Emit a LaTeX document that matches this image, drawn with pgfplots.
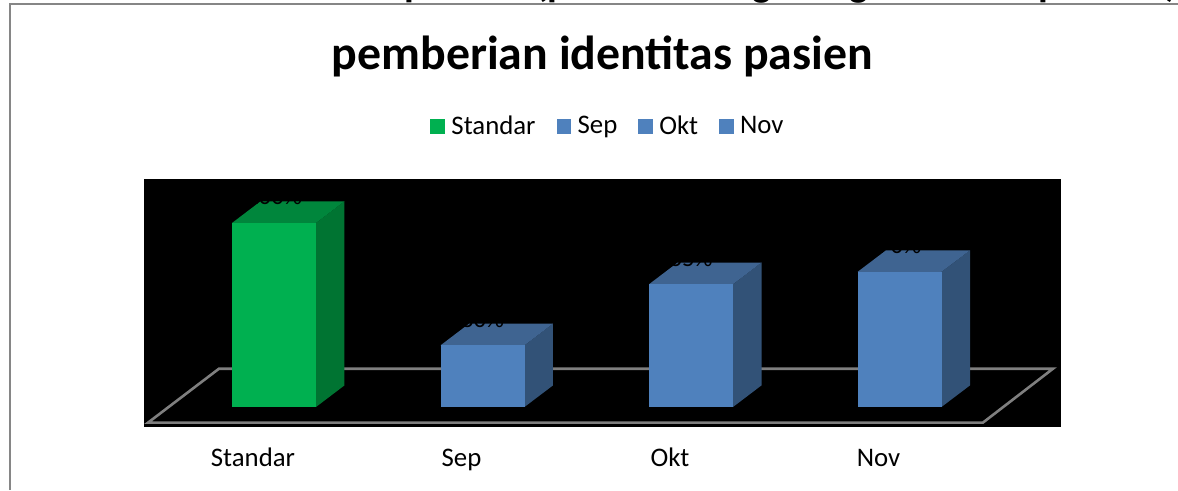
\documentclass[border=0pt]{standalone}
\usepackage{pgfplots}
\usepackage{fontspec}
\setmainfont{Carlito}
\pgfplotsset{compat=1.18}
\definecolor{gfront}{HTML}{00B050}
\definecolor{gtop}{HTML}{00863C}
\definecolor{gside}{HTML}{007432}
\definecolor{bfront}{HTML}{4F81BD}
\definecolor{btop}{HTML}{3F6491}
\definecolor{bside}{HTML}{325277}
\definecolor{floorgray}{HTML}{7F7F7F}
\definecolor{framegray}{HTML}{868686}
\begin{document}
\begin{tikzpicture}[x=1pt,y=1pt]
\useasboundingbox (0,0) rectangle (1178,490);
% descenders of the cut-off line above the chart
\foreach \px/\tx in {415/p,552/(p,762/g,859/g,1049/p,1172/)}
  \node[anchor=base,inner sep=0pt,font=\fontsize{40}{40}\selectfont\bfseries] at (\px,493.6) {\tx};
\fill[white] (0,0) rectangle (1178,486.5);
\draw[framegray,line width=2pt] (9.5,0) -- (9.5,486) -- (1178,486);
\node[anchor=base,inner sep=0pt,font=\fontsize{47.8}{48}\selectfont\bfseries] at (602.5,420) {pemberian identitas pasien};
\begin{axis}[
  at={(144pt,63pt)},anchor=south west,
  scale only axis,width=917pt,height=248pt,
  xmin=-0.6235,xmax=3.7746,ymin=-10.87,ymax=123.9,
  axis background/.style={fill=black},
  axis line style={draw=none},
  major tick length=0pt,
  ytick=\empty,
  xtick={0,1,2,3},
  xticklabels={Standar,Sep,Okt,Nov},
  x tick label style={font=\fontsize{26.8}{27}\selectfont,anchor=base,xshift=-21pt,yshift=-39pt,inner sep=0pt},
  legend style={at={(0.506,1.2137)},anchor=center,draw=none,fill=none,
    font=\fontsize{26.8}{27}\selectfont,legend columns=4,inner sep=0pt,
    /tikz/every odd column/.append style={column sep=4.5pt},
    /tikz/every even column/.append style={column sep=19pt}},
  legend image code/.code={\fill[#1,draw=none] (0pt,-7.5pt) rectangle (14.5pt,7.5pt);},
]
% floor
\addplot[forget plot,floorgray,line width=2.6pt,line join=miter,no marks] coordinates {(-0.604,-8.5)(3.400,-8.5)(3.736,20.8)(-0.264,20.8)(-0.604,-8.5)(3.400,-8.5)};
% depth faces
\addplot[forget plot,fill=gside,draw=none] coordinates {(0.2014,0)(0.3381,11.74)(0.3381,111.74)(0.2014,100)} -- cycle;
\addplot[forget plot,fill=gtop,draw=none] coordinates {(-0.2014,100)(0.2014,100)(0.3381,111.74)(-0.0647,111.74)} -- cycle;
\addplot[forget plot,fill=bside,draw=none] coordinates {(1.2014,0)(1.3381,11.74)(1.3381,45.24)(1.2014,33.5)} -- cycle;
\addplot[forget plot,fill=btop,draw=none] coordinates {(0.7986,33.5)(1.2014,33.5)(1.3381,45.24)(0.9353,45.24)} -- cycle;
\addplot[forget plot,fill=bside,draw=none] coordinates {(2.2014,0)(2.3381,11.74)(2.3381,78.44)(2.2014,66.7)} -- cycle;
\addplot[forget plot,fill=btop,draw=none] coordinates {(1.7986,66.7)(2.2014,66.7)(2.3381,78.44)(1.9353,78.44)} -- cycle;
\addplot[forget plot,fill=bside,draw=none] coordinates {(3.2014,0)(3.3381,11.74)(3.3381,85.14)(3.2014,73.4)} -- cycle;
\addplot[forget plot,fill=btop,draw=none] coordinates {(2.7986,73.4)(3.2014,73.4)(3.3381,85.14)(2.9353,85.14)} -- cycle;
% front faces with their labels
\pgfplotsset{lab/.style={ybar,bar shift=0pt,bar width=84pt,draw=none,
  nodes near coords={#1},
  every node near coord/.style={anchor=base,inner sep=0pt,text=black,xshift=0pt,yshift=18pt,font=\fontsize{25}{25}\selectfont}}}
\addplot[lab={100\%},fill=gfront] coordinates {(0,100)};
\addplot[lab={30\%},fill=bfront] coordinates {(1,33.5)};
\addplot[lab={65\%},fill=bfront] coordinates {(2,66.7)};
\addplot[lab={70\%},fill=bfront] coordinates {(3,73.4)};
\legend{Standar,Sep,Okt,Nov}
\end{axis}
\end{tikzpicture}
\end{document}
